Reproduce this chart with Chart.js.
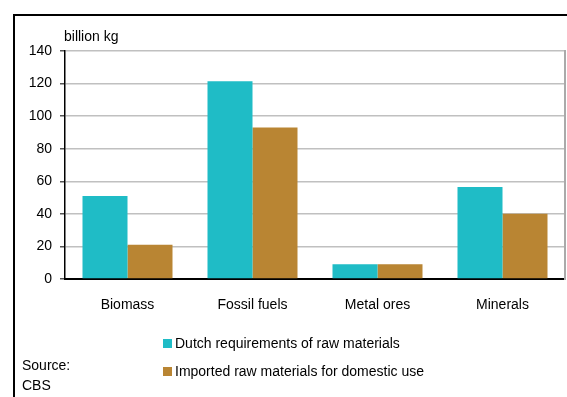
<!DOCTYPE html>
<html>
<head>
<meta charset="utf-8">
<script src="https://cdn.jsdelivr.net/npm/chart.js@4.4.0/dist/chart.umd.min.js"></script>
<style>
    body { margin: 0; background: #fff; font-family: "Liberation Sans", Arial, sans-serif; color: #000; }
    #wrap { position: relative; width: 567px; height: 397px; overflow: hidden; }
    #frame { position: absolute; left: 13px; top: 14px; width: 600px; height: 450px; border: 2px solid #000; pointer-events: none; }
    .txt { position: absolute; font-size: 14px; line-height: 16px; white-space: nowrap; }
    #leyenda .fila { position: absolute; left: 163px; font-size: 14px; line-height: 16px; white-space: nowrap; }
    #leyenda .caja { display: inline-block; width: 9px; height: 9px; margin-right: 3px; }
</style>
</head>
<body>
<div id="wrap">
    <canvas id="grafico" width="567" height="397"></canvas>
    <div id="frame"></div>
    <div class="txt" style="left:64px; top:28px;">billion kg</div>
    <div class="txt" style="left:22px; top:357px;">Source:</div>
    <div class="txt" style="left:22px; top:377px;">CBS</div>
    <div id="leyenda"></div>
</div>
<script>
// Datos del grafico
const categorias = ['Biomass', 'Fossil fuels', 'Metal ores', 'Minerals'];
const series_nombres = ['Dutch requirements of raw materials', 'Imported raw materials for domestic use'];
const valores_dutch = [51, 121.5, 9, 56.5];
const valores_importados = [21, 93, 9, 40];
const ticks_y = [0, 20, 40, 60, 80, 100, 120, 140];

const colores = ['#1fbcc6', '#b98533'];

const ctx = document.getElementById('grafico').getContext('2d');
const grafico = new Chart(ctx, {
    type: 'bar',
    data: {
        labels: categorias,
        datasets: [
            { label: series_nombres[0], data: valores_dutch, backgroundColor: colores[0] },
            { label: series_nombres[1], data: valores_importados, backgroundColor: colores[1] }
        ]
    },
    options: {
        responsive: false,
        animation: false,
        categoryPercentage: 0.72,
        barPercentage: 1.0,
        layout: { padding: { top: 51, left: 0, right: 0, bottom: 0 } },
        plugins: {
            legend: { display: false },
            tooltip: { enabled: false }
        },
        scales: {
            x: {
                grid: { display: false },
                border: { color: '#000', width: 2 },
                ticks: {
                    color: '#000',
                    padding: 10,
                    maxRotation: 0,
                    font: { family: '"Liberation Sans", Arial', size: 14 }
                },
                afterFit: (scale) => { scale.height = 118; }
            },
            y: {
                min: 0,
                max: 140,
                afterBuildTicks: (scale) => { scale.ticks = ticks_y.map(v => ({ value: v })); },
                grid: { color: '#c0c0c0', lineWidth: 1.5, tickLength: 5, tickColor: '#555' },
                border: { color: '#000', width: 1.5 },
                ticks: {
                    color: '#000',
                    padding: 8,
                    font: { family: '"Liberation Sans", Arial', size: 14 }
                },
                afterFit: (scale) => { scale.width = 65; }
            },
            derecha: {
                position: 'right',
                min: 0,
                max: 140,
                grid: { display: false },
                ticks: { display: false },
                border: { color: '#aaa', width: 2 },
                afterFit: (scale) => { scale.width = 2; }
            }
        }
    }
});

// Leyenda en HTML, dos filas
const leyenda = document.getElementById('leyenda');
grafico.data.datasets.forEach((ds, i) => {
    const fila = document.createElement('div');
    fila.className = 'fila';
    fila.style.top = (335 + i * 28) + 'px';
    fila.innerHTML = '<span class="caja" style="background:' + ds.backgroundColor + '"></span>' + ds.label;
    leyenda.appendChild(fila);
});
</script>
</body>
</html>
